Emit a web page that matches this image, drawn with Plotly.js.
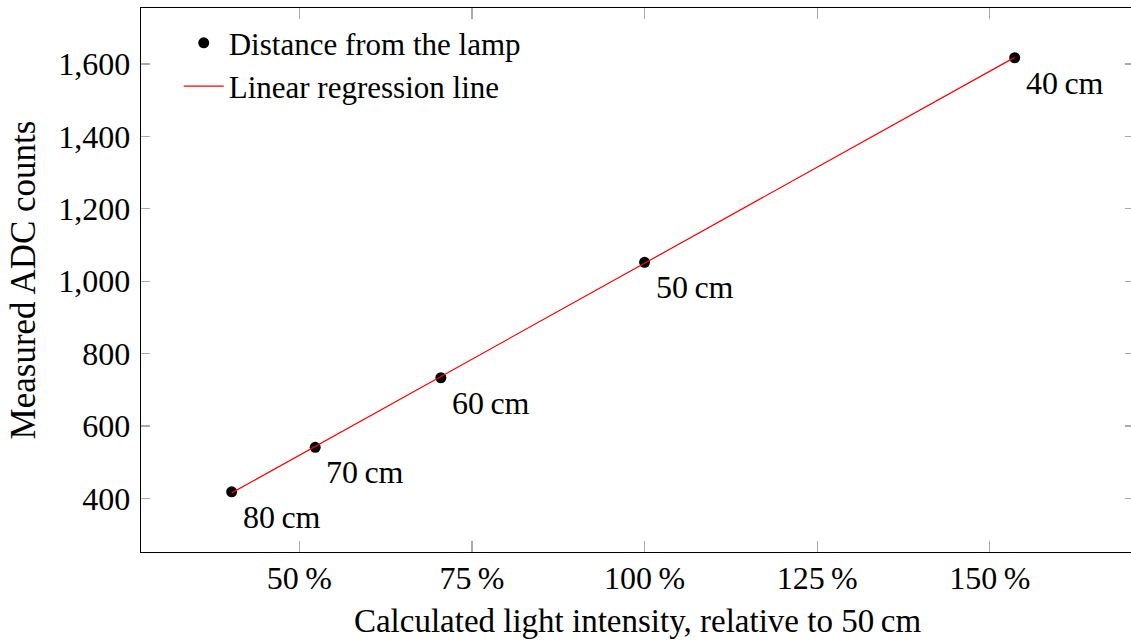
<!DOCTYPE html>
<html>
<head>
<meta charset="utf-8">
<script src="https://cdn.plot.ly/plotly-3.0.1.min.js"></script>
<style>
html,body{margin:0;padding:0;overflow:hidden;background:#fff;}
#chart{width:1134px;height:641px;}
</style>
</head>
<body>
<div id="chart"></div>
<script>
// Data
const distances = ['80\u2009cm', '70\u2009cm', '60\u2009cm', '50\u2009cm', '40\u2009cm'];
const intensity = [40.2, 52.3, 70.5, 100.0, 153.6];      // % relative to 50 cm
const adcCounts = [418, 541, 733, 1052, 1617];

const regX = [40.2, 153.6];
const regY = [415, 1618];

const xTickVals = [50, 75, 100, 125, 150];
const xTickText = ['50\u2009%', '75\u2009%', '100\u2009%', '125\u2009%', '150\u2009%'];
const yTickVals = [400, 600, 800, 1000, 1200, 1400, 1600];

const FONT = 'Liberation Serif, Times New Roman, serif';
const FS = 32;
const FT = 33;

const traces = [
  {
    x: intensity, y: adcCounts, type: 'scatter', mode: 'markers',
    name: 'Distance from the lamp',
    marker: {color: '#000', size: 11},
    hoverinfo: 'skip'
  },
  {
    x: regX, y: regY, type: 'scatter', mode: 'lines',
    name: 'Linear regression line',
    line: {color: '#ff0000', width: 1.2},
    hoverinfo: 'skip'
  }
];

const annotations = intensity.map((x, i) => ({
  x: x, y: adcCounts[i], xref: 'x', yref: 'y',
  text: distances[i], showarrow: false,
  xanchor: 'left', yanchor: 'top',
  xshift: 9, yshift: -5,
  font: {family: FONT, size: FS, color: '#000'}
}));

const layout = {
  width: 1134, height: 641,
  margin: {l: 141, r: 0, t: 8, b: 89, pad: 0},
  paper_bgcolor: '#fff', plot_bgcolor: '#fff',
  font: {family: FONT, size: FS, color: '#000'},
  showlegend: true,
  legend: {
    x: 0.038, y: 0.985, xanchor: 'left', yanchor: 'top',
    bgcolor: 'rgba(255,255,255,0)', borderwidth: 0,
    itemwidth: 40,
    font: {family: FONT, size: 31, color: '#000'},
    tracegroupgap: 0
  },
  xaxis: {
    range: [27.07, 170.88],
    tickmode: 'array', tickvals: xTickVals, ticktext: xTickText,
    ticks: 'inside', ticklen: 11, tickcolor: '#aaaaaa', tickwidth: 1.2,
    showline: true, linecolor: '#000', linewidth: 1.3, mirror: 'allticks',
    showgrid: false, zeroline: false, ticklabelstandoff: -3,
    tickfont: {family: FONT, size: FS, color: '#000'},
    title: {text: 'Calculated light intensity, relative to 50\u2009cm', standoff: 14,
            font: {family: FONT, size: FT, color: '#000'}}
  },
  yaxis: {
    range: [251.7, 1754.4],
    tickmode: 'array', tickvals: yTickVals, tickformat: ',d',
    ticks: 'inside', ticklen: 9, tickcolor: '#aaaaaa', tickwidth: 1.2,
    showline: true, linecolor: '#000', linewidth: 1.3, mirror: 'allticks',
    showgrid: false, zeroline: false, ticklabelstandoff: 3,
    tickfont: {family: FONT, size: FS, color: '#000'},
    title: {text: 'Measured ADC counts', standoff: 12,
            font: {family: FONT, size: 35, color: '#000'}}
  },
  annotations: annotations
};

Plotly.newPlot('chart', traces, layout, {displayModeBar: false, staticPlot: true});
</script>
</body>
</html>
